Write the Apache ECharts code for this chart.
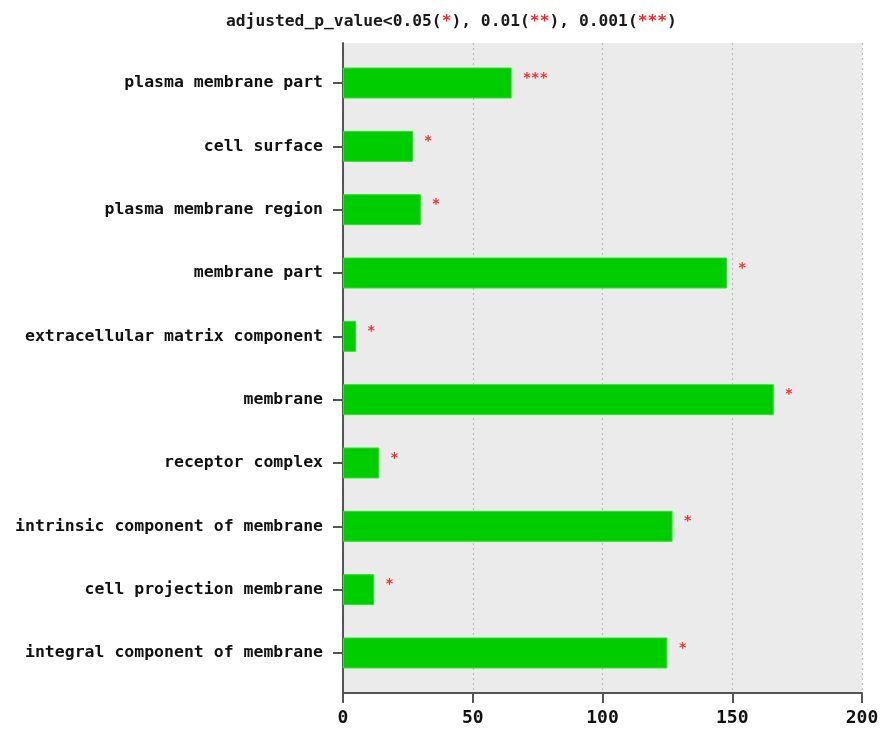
<!DOCTYPE html>
<html>
<head>
<meta charset="utf-8">
<script src="https://cdn.jsdelivr.net/npm/echarts@6/dist/echarts.min.js"></script>
<style>
  html, body { margin: 0; padding: 0; background: #ffffff; }
  #chart { width: 882px; height: 733px; }
</style>
</head>
<body>
<div id="chart"></div>
<script>
// GO cellular-component terms, top to bottom
var terms = [
  'plasma membrane part',
  'cell surface',
  'plasma membrane region',
  'membrane part',
  'extracellular matrix component',
  'membrane',
  'receptor complex',
  'intrinsic component of membrane',
  'cell projection membrane',
  'integral component of membrane'
];
// gene counts per term
var counts = [65, 27, 30, 148, 5, 166, 14, 127, 12, 125];
// significance marks per term
var marks = ['***', '*', '*', '*', '*', '*', '*', '*', '*', '*'];
// x axis ticks
var xTicks = [0, 50, 100, 150, 200];

var MONO = '"DejaVu Sans Mono", "Liberation Mono", monospace';

var chart = echarts.init(document.getElementById('chart'), null, { renderer: 'canvas' });

var option = {
  animation: false,
  backgroundColor: '#ffffff',
  title: {
    text: 'adjusted_p_value<0.05({r|*}), 0.01({r|**}), 0.001({r|***})',
    left: 221,
    top: 9,
    textStyle: {
      fontFamily: MONO,
      fontSize: 16.3,
      fontWeight: 'bold',
      color: '#1a1a1a',
      rich: {
        r: { fontFamily: MONO, fontSize: 16.3, color: '#ff2020', fontWeight: 'bold' }
      }
    }
  },
  grid: [
    // panel: grey background, value axis, left axis line
    { left: 343, top: 43, width: 519, height: 650, show: true, backgroundColor: '#ebebeb', borderWidth: 0 },
    // bars
    { left: 343, top: 51.35, width: 519, height: 633.3, show: false }
  ],
  xAxis: [
    {
      gridIndex: 0,
      type: 'value',
      min: xTicks[0],
      max: xTicks[xTicks.length - 1],
      interval: xTicks[1] - xTicks[0],
      axisLine: { show: true, lineStyle: { color: '#555555', width: 2 } },
      axisTick: { show: true, length: 10, lineStyle: { color: '#555555', width: 2 } },
      axisLabel: {
        margin: 16,
        fontFamily: MONO,
        fontSize: 18,
        fontWeight: 'bold',
        color: '#111111'
      },
      splitLine: { show: true, lineStyle: { color: '#bdbdbd', type: [2, 3], width: 1.2 } }
    },
    {
      gridIndex: 1,
      type: 'value',
      min: xTicks[0],
      max: xTicks[xTicks.length - 1],
      show: false
    }
  ],
  yAxis: [
    {
      gridIndex: 0,
      type: 'value',
      min: 0,
      max: 1,
      axisLine: { show: true, lineStyle: { color: '#555555', width: 2 } },
      axisTick: { show: false },
      axisLabel: { show: false },
      splitLine: { show: false }
    },
    {
      gridIndex: 1,
      type: 'category',
      data: terms,
      inverse: true,
      axisLine: { show: false },
      axisTick: { show: true, alignWithLabel: true, length: 10, lineStyle: { color: '#555555', width: 2 } },
      axisLabel: {
        margin: 20,
        fontFamily: MONO,
        fontSize: 16.5,
        fontWeight: 'bold',
        color: '#111111'
      },
      splitLine: { show: false }
    }
  ],
  series: [
    {
      type: 'bar',
      xAxisIndex: 1,
      yAxisIndex: 1,
      data: counts,
      barWidth: 31,
      itemStyle: { color: '#00cd00', borderColor: '#33e033', borderWidth: 1 },
      label: {
        show: true,
        position: 'right',
        distance: 11,
        offset: [0, -5],
        formatter: function (p) { return marks[p.dataIndex]; },
        fontFamily: MONO,
        fontSize: 14,
        fontWeight: 'bold',
        color: '#ff2a2a'
      }
    }
  ]
};

chart.setOption(option);
</script>
</body>
</html>
